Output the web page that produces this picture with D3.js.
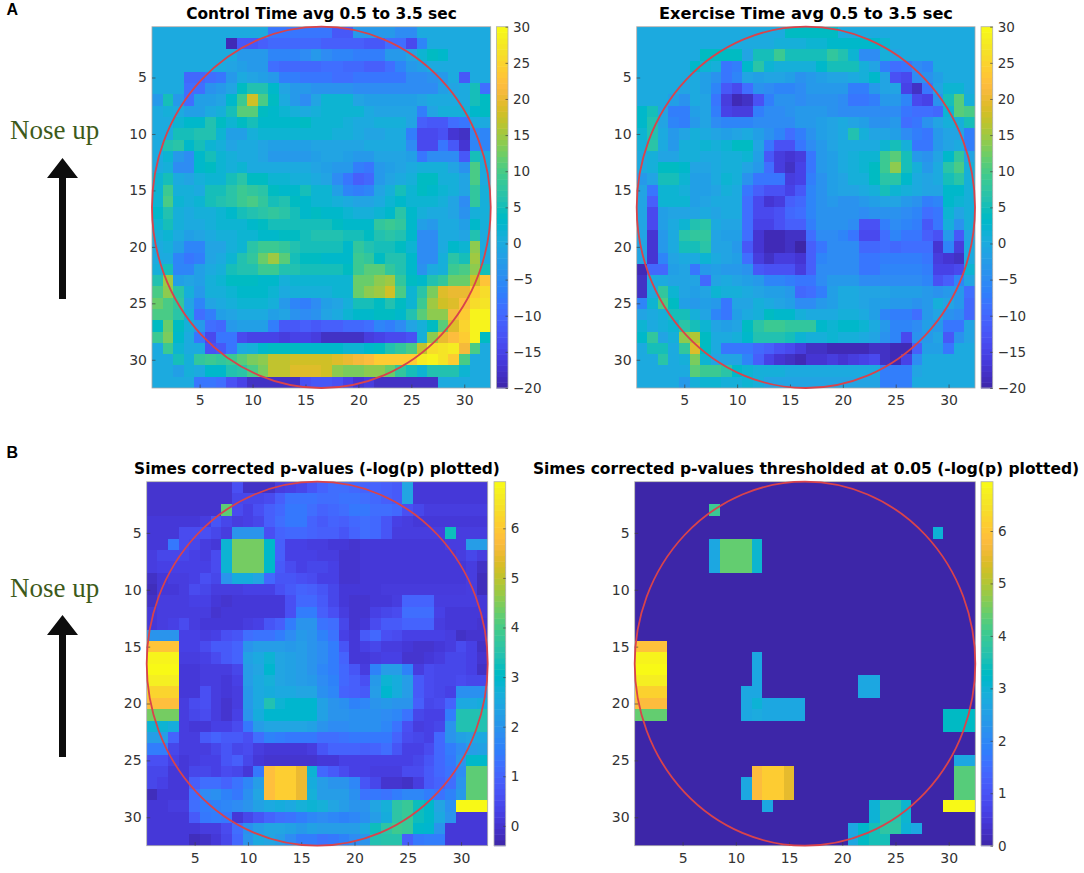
<!DOCTYPE html>
<html>
<head>
<meta charset="utf-8">
<script src="https://d3js.org/d3.v7.min.js"></script>
<style>
  html, body { margin: 0; padding: 0; background: #fff; }
  text { font-family: "DejaVu Sans", sans-serif; }
</style>
</head>
<body>
<svg id="fig" width="1084" height="873">
  <defs><filter id="soft" x="-2%" y="-2%" width="104%" height="104%"><feGaussianBlur stdDeviation="0.7"/></filter></defs>
</svg>
<script>
const controlTime = [
  [0,0,0,0,0,0,0,0,0,0,0,-8,-8,-8,-8,-8,-8,-12,-12,-3,-3,-3,-3,-5,-5,0,0,0,0,0,0,0],
  [0,0,0,0,0,0,0,-19,-12,-12,-11,-10,-10,-10,-10,-10,-11,-11,-11,-11,-12,-12,-9,-9,-14,-6,0,0,0,0,0,0],
  [0,0,0,0,0,0,0,0,-3,-3,-3,-6,-6,-6,-5,-3,-5,-6,-6,-7,-7,-7,-3,-3,-1,2,4,3,0,0,0,0],
  [0,0,0,0,0,0,0,-1,-2,-3,-3,-9,-10,-10,-10,-10,-9,-9,-10,-10,-11,-11,-9,-6,-3,-2,0,0,0,0,0,0],
  [0,0,0,-10,-10,-9,-8,-3,0,-1,-2,-3,-7,-7,-8,-8,-8,-9,-9,-8,-8,-8,-8,-8,-5,-5,-4,-3,0,-12,0,0],
  [0,0,0,-9,-9,-4,-3,-1,4,6,6,3,-1,-3,-3,-4,-4,-4,-4,-5,-5,-5,-5,-5,-5,-5,-5,-2,-1,0,5,-9],
  [-3,5,-3,-9,-2,-2,-1,3,9,18,10,4,0,-3,-5,-1,2,2,2,-1,-2,-2,-2,-2,-2,-1,0,0,0,0,5,4],
  [0,1,0,-2,-2,0,1,5,11,11,4,3,2,1,0,1,2,2,2,2,0,-1,-1,-1,-1,-7,-1,1,1,1,3,4],
  [0,0,2,3,3,6,4,2,4,5,3,3,3,3,4,2,2,2,1,0,0,1,1,1,-1,-11,-12,-12,-9,-8,0,0],
  [0,0,5,5,6,6,2,-2,-2,1,2,2,2,2,2,2,2,1,1,0,-1,-1,0,0,-7,-14,-14,-13,-17,-18,-5,-6],
  [0,6,7,3,5,2,1,-1,0,0,-1,-2,-2,-2,-2,-1,-1,-1,-1,-1,0,0,0,0,-5,-14,-14,-8,-12,-17,-6,-6],
  [0,2,-3,-5,3,5,2,1,0,0,-1,-3,-3,-3,-3,-2,-1,-1,-2,-3,-3,-1,-1,-1,-2,-8,-5,-5,-5,-12,5,0],
  [0,1,-5,-5,3,4,2,1,2,0,0,0,0,0,0,-1,-2,-3,-3,-7,-8,-3,-2,-1,0,1,1,1,-1,-4,10,0],
  [2,5,0,-1,1,2,2,5,7,4,4,2,2,1,1,0,-1,-5,-8,-11,-10,-3,-1,0,1,4,4,1,1,-1,10,0],
  [2,9,1,1,0,5,5,7,9,8,7,4,3,3,5,2,2,-2,-6,-7,-6,-1,1,5,2,4,3,2,1,-1,8,1],
  [2,10,2,1,2,5,6,7,9,10,8,5,6,4,3,2,2,1,0,-1,-1,0,2,3,2,2,2,1,-1,-5,8,1],
  [3,6,1,0,1,1,2,3,5,6,7,8,7,5,3,4,3,3,2,1,1,2,3,7,3,1,0,0,-1,-4,1,1],
  [2,5,1,0,0,1,2,2,2,3,4,5,5,5,5,5,5,4,3,3,3,8,9,8,3,-2,-3,0,0,-2,3,1],
  [1,2,0,-2,-1,0,1,1,2,2,3,3,4,4,5,6,6,6,5,5,4,6,7,6,3,-5,-5,0,0,-1,6,0],
  [0,1,-2,-6,-6,-1,-1,1,2,7,9,9,8,6,5,5,5,5,3,8,6,5,5,4,2,-5,-5,0,3,2,14,0],
  [0,0,-6,-8,-7,-1,0,2,6,8,12,15,11,5,4,4,3,3,3,9,8,4,6,6,3,-5,-5,1,7,5,15,0],
  [1,5,-6,-6,-2,0,1,5,6,6,9,9,6,6,5,5,5,5,4,9,11,11,8,6,3,-4,0,1,9,10,14,5],
  [6,15,-2,-1,-2,1,2,4,4,4,3,3,1,2,2,2,2,2,2,12,12,14,15,8,4,3,6,8,12,12,18,23],
  [10,14,7,1,-3,1,1,2,3,3,3,2,0,1,1,1,1,2,2,12,14,15,18,10,2,7,13,19,20,20,24,26],
  [12,10,8,-1,-6,-1,0,1,2,2,2,1,-3,-6,-7,-5,-2,-1,1,5,5,4,6,4,2,9,15,18,19,22,26,27],
  [10,10,7,1,-9,-7,-2,-1,0,0,0,-2,-1,-4,-5,-4,-1,0,2,3,3,4,4,3,6,11,14,14,21,24,29,29],
  [4,12,4,1,-3,-9,-10,-3,-2,-2,-2,-7,-12,-12,-11,-12,-11,-11,-10,-10,-9,-6,-7,-5,-1,1,4,11,19,25,29,29],
  [9,13,3,0,-8,-14,-8,-8,-14,-15,-15,-15,-16,-15,-15,-16,-18,-18,-18,-18,-16,-15,-14,-14,-13,1,14,20,22,24,29,4],
  [0,9,2,0,0,-13,-12,-8,0,1,3,4,4,4,3,3,3,3,2,2,3,4,6,8,10,17,26,27,28,21,10,0],
  [0,0,5,1,8,9,8,9,11,13,14,17,17,18,18,18,18,19,20,21,22,24,24,24,24,28,29,27,24,10,0,0],
  [0,0,-2,1,0,3,3,6,7,10,13,17,17,19,19,19,18,14,13,13,14,14,12,8,5,2,6,6,6,2,0,0],
  [0,0,0,0,-8,-8,-9,-13,-15,-18,-18,-18,-18,-18,-13,-12,-12,-13,-15,-17,-16,-18,-18,-18,-18,-18,-18,0,0,0,0,0]
];

const exerciseTime = [
  [0,0,0,0,0,0,0,0,0,0,0,0,0,0,4,4,4,4,4,0,0,0,0,0,0,0,0,0,0,0,0,0],
  [0,0,0,0,0,0,0,0,0,0,0,0,0,1,1,1,2,2,3,3,3,3,3,2,0,0,0,0,0,0,0,0],
  [0,0,0,0,0,0,4,4,4,4,-1,5,5,9,5,5,5,5,8,6,2,-5,-5,1,-1,0,0,0,0,0,0,0],
  [0,0,0,0,0,3,2,1,-8,-7,3,7,2,1,1,1,1,3,5,5,5,1,-1,-7,-9,-8,-5,-6,0,0,0,0],
  [0,0,0,0,0,0,-2,-4,-8,-6,-1,-2,-1,-1,-2,-4,-3,-2,-1,-1,0,1,3,-1,-13,-14,-5,-4,-2,0,0,0],
  [0,0,0,0,-1,0,-2,-6,-12,-14,-9,-4,-5,-6,-6,-5,-3,-3,-3,-3,-7,-7,-3,-1,-1,-15,-18,-8,-1,2,2,0],
  [0,0,0,-2,-4,0,-1,-8,-16,-19,-18,-13,-7,-4,-4,-5,-4,-4,-4,-5,-8,-8,-7,-3,-3,-6,-14,-15,-4,5,11,1],
  [3,5,-1,-7,-7,-2,-1,-7,-15,-16,-16,-7,-5,-5,-4,-3,-3,-3,-4,-5,-5,-5,-5,-5,-5,-8,-9,-9,-10,2,11,10],
  [3,6,-1,-6,-7,-3,-1,-5,-6,-6,-6,-5,-5,-5,-5,-3,-3,-2,-1,0,-1,-2,-4,-4,-3,-9,-8,-4,-1,1,1,5],
  [2,6,0,-3,-1,1,0,-1,-2,-1,0,-2,-4,-6,-9,-7,-4,-2,-1,0,6,1,-1,-1,-2,-5,-7,-8,-3,-1,-1,-7],
  [1,7,0,-3,1,1,2,1,2,4,4,-1,-8,-13,-13,-8,-5,-3,-1,0,0,0,0,2,5,1,-8,-8,-3,-1,0,-7],
  [0,1,-1,-1,1,1,0,0,1,1,2,-2,-12,-16,-17,-16,-8,-3,-2,0,1,2,2,9,11,5,-3,-4,-1,3,8,-1],
  [0,1,4,4,3,-1,-1,0,1,1,-1,-3,-9,-16,-18,-15,-8,-3,-2,0,1,2,4,9,14,5,1,-3,0,7,10,1],
  [-3,-1,5,5,2,-2,-2,0,2,1,-4,-8,-8,-8,-16,-15,-7,-4,-2,-1,1,1,4,7,7,3,0,-1,0,5,7,1],
  [-1,-8,2,2,1,-2,-2,-1,1,0,-8,-11,-13,-13,-15,-12,-6,-4,-2,-1,-1,0,1,5,2,1,0,-1,-1,3,3,1],
  [-1,-11,2,2,2,-2,-1,0,0,0,-9,-14,-17,-16,-11,-10,-6,-4,-3,-4,-4,-3,-2,-1,-1,-3,-4,-7,-6,3,2,1],
  [-1,-14,-2,-1,-1,-1,0,-1,0,0,-9,-14,-14,-13,-10,-9,-6,-4,-4,-4,-4,-5,-4,-4,-4,-5,-6,-9,-8,2,-1,1],
  [-1,-14,-2,0,2,6,7,0,-1,-1,-9,-15,-15,-13,-11,-11,-7,-4,-4,-4,-5,-13,-13,-7,-5,-6,-7,-12,-8,1,-4,1],
  [-1,-17,-3,0,7,8,8,-1,-2,-2,-9,-17,-19,-19,-18,-18,-9,-5,-5,-6,-8,-14,-14,-9,-6,-8,-8,-11,-13,-3,-12,-1],
  [-1,-17,-3,0,5,5,7,-1,-1,-3,-12,-17,-19,-19,-18,-20,-11,-8,-5,-5,-5,-10,-10,-9,-10,-9,-9,-9,-17,-6,-16,0],
  [-1,-17,-6,-1,0,0,2,0,-1,-2,-9,-16,-18,-16,-16,-17,-11,-6,-5,-5,-5,-8,-8,-7,-7,-7,-7,-8,-16,-17,-18,0],
  [-19,-10,-10,-2,-1,-8,-3,-2,-3,-3,-4,-12,-13,-13,-13,-16,-11,-5,-5,-5,-5,-8,-8,-6,-6,-6,-6,-7,-15,-15,-14,2],
  [-18,0,0,-1,-1,-1,-10,-1,0,-1,-2,-3,-6,-6,-7,-8,-8,-5,-3,-3,-3,-5,-5,-5,-5,-5,-5,-6,-13,-11,-6,-1],
  [-18,0,8,2,-1,-2,-1,2,1,1,0,-1,-2,-2,-3,-10,-9,-7,-2,0,0,-1,-1,-1,-2,-2,-2,-3,-4,-3,-3,-9],
  [-6,2,10,4,-2,-3,-2,-3,-8,-1,-1,1,0,-1,-2,-5,-5,-3,-2,0,0,-1,-2,-2,-3,-3,-4,-3,1,-1,-3,-10],
  [-1,0,1,5,5,1,-1,-6,-8,-2,0,1,4,3,3,1,0,0,0,1,1,0,-2,-6,-7,-7,-9,-3,-1,-4,-5,-10],
  [2,0,1,2,7,5,2,-1,-2,-1,4,7,9,9,8,8,8,3,2,3,3,2,0,-3,-6,-6,-5,-2,-3,-8,-8,-1],
  [3,8,-1,1,14,16,4,0,0,1,3,6,6,6,5,2,1,1,2,1,1,0,-1,-4,-6,-14,-4,-3,-1,-12,-4,-1],
  [0,5,5,0,8,19,4,0,-8,-8,-8,-10,-11,-13,-14,-16,-18,-18,-19,-19,-19,-19,-18,-18,-19,-19,-11,-2,-2,-8,0,0],
  [0,0,7,0,1,13,2,-1,-1,-1,-6,-11,-15,-17,-18,-19,-17,-17,-16,-17,-16,-15,-14,-18,-19,-15,-5,0,0,0,0,0],
  [0,0,0,0,0,11,9,9,7,3,2,1,1,1,0,0,0,0,0,0,0,0,0,-7,-7,-7,-1,0,0,0,0,0],
  [0,0,0,0,-3,1,2,2,1,1,2,1,-1,-1,-1,-1,-1,-1,-1,-1,-1,-1,-1,-7,-7,-7,0,0,0,0,0,0]
];

const simesP = [
  [0,0,0,0,0,0,0,0,.6,-.1,-.1,-.1,.2,.3,.4,.7,1,1.2,1.2,1.1,1,1,.9,.8,2.4,.1,.1,.1,.1,.1,.1,.1],
  [0,0,0,0,0,0,0,0,.4,.4,.4,.5,.9,1.3,1.3,1.3,1.2,1.2,1.3,1.3,1.2,1.1,.9,.8,2.4,.1,.1,.1,.1,.1,.1,.1],
  [0,0,0,0,0,0,0,4.2,.5,.3,.6,.9,1.1,1.4,1.4,1.2,1,1.1,1.2,1.4,1.4,1.2,1.2,1.1,.6,.4,.2,.2,.2,.2,.2,.2],
  [.1,.1,.1,.1,.1,.2,.7,.4,.2,.3,.4,.9,1.2,1.4,1.4,1,.8,1,.9,1.1,1.2,1.1,.7,.3,.2,.1,.1,.1,.1,.1,.1,.1],
  [.1,.1,.1,.5,.5,.6,.4,.2,2,2,2,.6,1,1.1,1.1,1,.9,.9,.7,1,1.2,1.1,.7,.2,.2,.2,.2,.2,3.2,.2,.2,.2],
  [.1,.1,1.4,.5,.4,.2,.1,2.8,4.4,4.4,4.4,3,.9,.3,.3,.2,.2,.1,.1,0,.1,.1,.1,.1,.1,.1,.1,.1,.2,.2,2.2,2.2],
  [.2,.4,.4,.4,.3,.2,.5,2.8,4.4,4.4,4.4,3,.9,.3,.3,.3,.2,.2,0,0,.1,.1,.1,.1,.1,.1,.1,.1,.1,.2,.4,.2],
  [.2,.3,.3,.3,.3,.3,.5,2.8,4.4,4.4,4.4,3,.8,.5,.3,.4,.4,.3,0,0,.1,.1,.1,.1,.1,.1,.1,.1,.1,.1,.2,-.1],
  [-.1,.1,.2,.2,.3,.6,.4,2,2.6,2.6,2.4,1.1,.7,.7,.6,.5,.3,.3,0,0,.1,.1,.1,.1,.1,.1,.1,.1,.1,.1,.2,-.2],
  [-.2,.1,.1,.2,.5,.4,.2,.2,.2,.3,.3,.3,.6,.8,1,.9,.7,.4,.1,.1,.1,.1,.15,.15,.15,.15,.15,.15,.15,.15,.2,-.2],
  [-.1,.2,.2,.2,.3,.3,.1,0,.1,.1,.1,.1,.1,.6,1.1,1.1,.8,.4,.1,0,0,.1,.1,.2,1,1,1,.2,.2,.2,.2,.1],
  [.1,.2,.2,.2,.2,.2,0,.1,.1,.1,.1,.1,.1,.6,1.5,1.5,.9,.6,.2,0,0,.3,.4,.5,1.2,1.2,1.2,.3,.1,.1,.1,.1],
  [.1,.2,.3,.5,.2,.1,.1,.1,.1,.2,.3,.7,.9,1.5,2,2,1.3,1.2,.4,0,.1,.5,.8,.8,1,1,1,.2,.1,.1,.1,0],
  [2,2,2,.3,.3,.2,.3,.6,.7,1.2,1.3,1.3,1.5,1.8,2.1,2,1.6,1.3,.3,.1,.8,1.1,.6,.5,.3,.3,.3,.3,.2,-.1,0,0],
  [5.9,5.9,5.9,.3,.3,.5,.8,.8,1,2,2.2,2.2,2.2,2.1,2.2,2,1.8,1.5,.7,.1,.3,.4,.2,.2,.1,0,0,.1,.2,.5,.3,-.1],
  [6.8,6.8,6.8,.2,.2,.3,.5,.8,1,2.3,2.5,2.8,2.4,2.3,2.2,2,1.8,1.5,1,.1,.1,.2,.3,.3,0,0,.1,.2,.4,.4,.3,0],
  [6.9,6.9,6.9,.1,.1,.2,.2,.2,.4,2.2,2.4,2.9,2.4,2.3,2.2,2,1.7,1.5,1.1,.7,.2,1.6,2.2,2.2,1.6,.2,.5,.4,.4,.4,.3,-.1],
  [6.7,6.7,6.7,.1,.1,.2,.2,.1,.3,2.2,2.5,2.7,2.4,2.3,2.2,2.1,1.8,1.6,1.1,.9,.6,2.1,2.8,2.6,2.2,.8,.5,.4,.4,.5,.4,.4],
  [6.2,6.2,6.2,.1,.1,.6,.2,.1,.2,2.1,2.5,2.6,2.5,2.5,2.4,2.4,1.9,1.7,1,.9,.8,2.2,2.9,2.6,2.2,.8,.5,.4,.3,1.9,1.9,1.9],
  [5.8,5.8,5.8,.2,.5,.6,.2,0,.2,2.1,2.5,3.4,2.8,2.9,2.9,2.9,2.3,2,1.9,1.6,1.7,2,2.1,2,2,.9,.4,.5,1,2.5,2.5,2.6],
  [4.4,4.4,4.4,.2,.4,.5,.2,0,.3,2,2.6,2.9,2.9,2.9,2.9,2.9,2.3,2,2,1.9,1.9,1.9,1.8,1.7,1.3,.4,.3,.3,1.5,3.4,3.4,3.4],
  [2.8,2.8,2.6,.2,.1,.1,.3,.3,.5,1.4,2.2,2.4,2.4,2.4,2.4,2.3,2,1.8,1.8,1.9,1.9,1.9,1.7,1.3,.6,.2,.3,.4,2,3.4,3.4,3.4],
  [2.2,2.2,1,.2,.2,.8,1,.8,.8,.6,1.2,1.6,1.5,1.4,1.4,1.4,1.2,1.2,1.3,1.4,1.4,1.4,1.4,1,.5,.4,.3,1.1,2,2.3,2.4,2.5],
  [1.5,1.5,.4,.2,.2,.2,.4,.7,.4,.5,.2,.1,.1,.1,.1,.2,.7,1,1,1,.9,1,1.2,.7,.3,.3,.5,1.1,1.5,1.8,2.2,2.3],
  [.6,.6,.3,.1,.2,.3,.3,.7,.9,.4,.1,0,0,0,0,0,.1,.1,.3,.3,.3,.3,.3,.3,.3,.4,.7,1.1,1.4,2,3,3],
  [.4,.4,.1,.1,.4,.4,.3,.5,.4,.1,1.4,5.8,6.1,6.1,5.5,2.8,1.1,.8,.5,.3,.3,.2,.2,.2,.5,.5,.8,1.1,1.3,1.8,4.2,4.2],
  [.4,.3,.1,.1,.9,1.2,1.2,1,1.3,1.7,2.2,5.8,6.1,6.1,5.5,2.6,2.2,2,2,1.7,.7,.4,0,0,-.1,.2,.8,1,1.2,2,4.2,4.2],
  [-.2,.1,.1,.1,1.2,1.8,1.9,1.6,1.4,1.9,2.4,5.8,6.1,6.1,5.5,2.7,2.2,2.2,2.2,1.9,1.3,1.4,1.3,1.5,1.7,1.7,1.5,1.3,1.6,2.1,4.2,4.2],
  [.1,.1,.2,.2,1.2,1.5,1.6,1.7,1.8,2,2.3,2.5,2.6,2.5,2.7,2.8,2.7,2.4,2.2,2,2,2.4,2.7,3.6,3.8,3.2,3,2.4,1.9,6.9,6.9,6.9],
  [.1,.1,.1,.1,.8,1.4,1.5,1.4,.1,.4,.7,1,1.2,1.3,1.5,1.7,1.8,1.7,1.6,1.7,1.9,2.2,2.6,3.6,3.8,3.2,3,2.5,2,.1,.1,.1],
  [.1,.1,.1,.1,.1,.2,.2,.5,1.2,1.9,2.2,2.4,2.4,2.3,2.1,2.3,2.2,2.2,2.2,2.2,2.5,3.2,3.6,3.9,3.8,3,2.9,2,.1,.1,.1,.1],
  [.1,.1,.1,.1,-.2,-.1,.1,.4,1.1,2,2.5,2.4,2.2,1.8,1.5,1.5,1.3,1.4,1.6,1.8,2,3.4,3.5,3.5,.9,1.4,1.5,1.5,.1,.1,.1,.1]
];

const simesThresholded = [
  [0,0,0,0,0,0,0,0,0,0,0,0,0,0,0,0,0,0,0,0,0,0,0,0,0,0,0,0,0,0,0,0],
  [0,0,0,0,0,0,0,0,0,0,0,0,0,0,0,0,0,0,0,0,0,0,0,0,0,0,0,0,0,0,0,0],
  [0,0,0,0,0,0,0,4,0,0,0,0,0,0,0,0,0,0,0,0,0,0,0,0,0,0,0,0,0,0,0,0],
  [0,0,0,0,0,0,0,0,0,0,0,0,0,0,0,0,0,0,0,0,0,0,0,0,0,0,0,0,0,0,0,0],
  [0,0,0,0,0,0,0,0,0,0,0,0,0,0,0,0,0,0,0,0,0,0,0,0,0,0,0,0,3,0,0,0],
  [0,0,0,0,0,0,0,2.7,4.4,4.4,4.4,3.1,0,0,0,0,0,0,0,0,0,0,0,0,0,0,0,0,0,0,0,0],
  [0,0,0,0,0,0,0,2.7,4.4,4.4,4.4,3.1,0,0,0,0,0,0,0,0,0,0,0,0,0,0,0,0,0,0,0,0],
  [0,0,0,0,0,0,0,2.7,4.4,4.4,4.4,3.1,0,0,0,0,0,0,0,0,0,0,0,0,0,0,0,0,0,0,0,0],
  [0,0,0,0,0,0,0,0,0,0,0,0,0,0,0,0,0,0,0,0,0,0,0,0,0,0,0,0,0,0,0,0],
  [0,0,0,0,0,0,0,0,0,0,0,0,0,0,0,0,0,0,0,0,0,0,0,0,0,0,0,0,0,0,0,0],
  [0,0,0,0,0,0,0,0,0,0,0,0,0,0,0,0,0,0,0,0,0,0,0,0,0,0,0,0,0,0,0,0],
  [0,0,0,0,0,0,0,0,0,0,0,0,0,0,0,0,0,0,0,0,0,0,0,0,0,0,0,0,0,0,0,0],
  [0,0,0,0,0,0,0,0,0,0,0,0,0,0,0,0,0,0,0,0,0,0,0,0,0,0,0,0,0,0,0,0],
  [0,0,0,0,0,0,0,0,0,0,0,0,0,0,0,0,0,0,0,0,0,0,0,0,0,0,0,0,0,0,0,0],
  [5.9,5.9,5.9,0,0,0,0,0,0,0,0,0,0,0,0,0,0,0,0,0,0,0,0,0,0,0,0,0,0,0,0,0],
  [6.8,6.8,6.8,0,0,0,0,0,0,0,0,2.7,0,0,0,0,0,0,0,0,0,0,0,0,0,0,0,0,0,0,0,0],
  [6.9,6.9,6.9,0,0,0,0,0,0,0,0,2.7,0,0,0,0,0,0,0,0,0,0,0,0,0,0,0,0,0,0,0,0],
  [6.7,6.7,6.7,0,0,0,0,0,0,0,0,2.7,0,0,0,0,0,0,0,0,0,2.7,2.7,0,0,0,0,0,0,0,0,0],
  [6.2,6.2,6.2,0,0,0,0,0,0,0,2.7,2.7,0,0,0,0,0,0,0,0,0,2.7,2.7,0,0,0,0,0,0,0,0,0],
  [5.8,5.8,5.8,0,0,0,0,0,0,0,2.7,3,2.7,2.7,2.7,2.7,0,0,0,0,0,0,0,0,0,0,0,0,0,0,0,0],
  [4.4,4.4,4.4,0,0,0,0,0,0,0,2.7,2.8,2.7,2.7,2.7,2.7,0,0,0,0,0,0,0,0,0,0,0,0,0,3.3,3.3,3.3],
  [0,0,0,0,0,0,0,0,0,0,0,0,0,0,0,0,0,0,0,0,0,0,0,0,0,0,0,0,0,3.3,3.3,3.3],
  [0,0,0,0,0,0,0,0,0,0,0,0,0,0,0,0,0,0,0,0,0,0,0,0,0,0,0,0,0,0,0,0],
  [0,0,0,0,0,0,0,0,0,0,0,0,0,0,0,0,0,0,0,0,0,0,0,0,0,0,0,0,0,0,0,0],
  [0,0,0,0,0,0,0,0,0,0,0,0,0,0,0,0,0,0,0,0,0,0,0,0,0,0,0,0,0,0,2.7,2.7],
  [0,0,0,0,0,0,0,0,0,0,0,5.8,6.1,6.1,5.5,0,0,0,0,0,0,0,0,0,0,0,0,0,0,0,4.3,4.3],
  [0,0,0,0,0,0,0,0,0,0,2.7,5.8,6.1,6.1,5.5,0,0,0,0,0,0,0,0,0,0,0,0,0,0,0,4.3,4.3],
  [0,0,0,0,0,0,0,0,0,0,2.7,5.8,6.1,6.1,5.5,0,0,0,0,0,0,0,0,0,0,0,0,0,0,0,4.3,4.3],
  [0,0,0,0,0,0,0,0,0,0,0,0,2.7,0,0,0,0,0,0,0,0,0,3,3.7,3.7,3.1,0,0,0,6.9,6.9,6.9],
  [0,0,0,0,0,0,0,0,0,0,0,0,0,0,0,0,0,0,0,0,0,0,3,3.7,3.7,3.1,0,0,0,0,0,0],
  [0,0,0,0,0,0,0,0,0,0,0,0,0,0,0,0,0,0,0,0,2.7,3.2,3.5,3.8,3.8,3,2.7,0,0,0,0,0],
  [0,0,0,0,0,0,0,0,0,0,0,0,0,0,0,0,0,0,0,0,2.7,3.3,3.5,3.5,0,0,0,0,0,0,0,0]
];

const axisTicks = [5, 10, 15, 20, 25, 30];
const tempTicks = [-20, -15, -10, -5, 0, 5, 10, 15, 20, 25, 30];
const pTicks = [0, 1, 2, 3, 4, 5, 6];

// MATLAB parula table
const PARULA = [
  [.2422,.1504,.6603],[.2504,.1650,.7076],[.2578,.1818,.7511],[.2647,.1978,.7952],
  [.2706,.2147,.8364],[.2751,.2342,.8710],[.2783,.2559,.8991],[.2803,.2782,.9221],
  [.2813,.3006,.9414],[.2810,.3228,.9579],[.2795,.3447,.9717],[.2760,.3667,.9829],
  [.2699,.3892,.9906],[.2602,.4123,.9952],[.2440,.4358,.9988],[.2206,.4603,.9973],
  [.1963,.4847,.9892],[.1834,.5074,.9798],[.1786,.5289,.9682],[.1764,.5499,.9520],
  [.1687,.5703,.9359],[.1540,.5902,.9218],[.1460,.6091,.9079],[.1380,.6276,.8973],
  [.1248,.6459,.8883],[.1113,.6635,.8763],[.0952,.6798,.8598],[.0689,.6948,.8394],
  [.0297,.7082,.8163],[.0036,.7203,.7917],[.0067,.7312,.7660],[.0433,.7411,.7394],
  [.0964,.7500,.7120],[.1408,.7584,.6842],[.1717,.7670,.6554],[.1938,.7758,.6251],
  [.2161,.7843,.5923],[.2470,.7918,.5567],[.2906,.7973,.5188],[.3406,.8008,.4789],
  [.3909,.8029,.4354],[.4456,.8024,.3909],[.5044,.7993,.3480],[.5616,.7942,.3045],
  [.6174,.7876,.2612],[.6720,.7793,.2227],[.7242,.7698,.1910],[.7738,.7598,.1646],
  [.8203,.7498,.1535],[.8634,.7406,.1596],[.9035,.7330,.1774],[.9393,.7288,.2100],
  [.9728,.7298,.2394],[.9956,.7434,.2371],[.9970,.7659,.2199],[.9952,.7893,.2028],
  [.9892,.8136,.1885],[.9786,.8386,.1766],[.9676,.8639,.1643],[.9610,.8890,.1537],
  [.9597,.9135,.1423],[.9628,.9373,.1265],[.9691,.9606,.1064],[.9769,.9839,.0805]
];

const svg = d3.select('#fig');

function parulaScale(lo, hi) {
  const stops = PARULA.map((c, i) => lo + (hi - lo) * i / (PARULA.length - 1));
  return d3.scaleLinear().domain(stops)
    .range(PARULA.map(c => d3.rgb(c[0] * 255, c[1] * 255, c[2] * 255))).clamp(true);
}

function drawPanel(p) {
  const g = svg.append('g');
  const x = d3.scaleLinear().domain([0.5, 32.5]).range([p.left, p.right]);
  const y = d3.scaleLinear().domain([0.5, 32.5]).range([p.top, p.bottom]);
  const color = parulaScale(p.lo, p.hi);

  const clipId = 'clip' + p.id;
  g.append('clipPath').attr('id', clipId).append('rect')
    .attr('x', p.left).attr('y', p.top)
    .attr('width', p.right - p.left).attr('height', p.bottom - p.top);

  const cells = p.values.flatMap((row, r) => row.map((v, c) => ({ r: r + 1, c: c + 1, v })));
  g.append('g').attr('clip-path', `url(#${clipId})`)
    .append('g').attr('filter', 'url(#soft)')
    .selectAll('rect').data(cells).join('rect')
    .attr('x', d => x(d.c - 0.5))
    .attr('y', d => y(d.r - 0.5))
    .attr('width', x(2) - x(1) + 0.5)
    .attr('height', y(2) - y(1) + 0.5)
    .attr('shape-rendering', 'crispEdges')
    .attr('fill', d => color(d.v));

  // axes box and inward ticks
  g.append('rect')
    .attr('x', p.left).attr('y', p.top)
    .attr('width', p.right - p.left).attr('height', p.bottom - p.top)
    .attr('fill', 'none').attr('stroke', '#a8a8a8').attr('stroke-width', 0.8);

  const bottomAxis = d3.axisBottom(x).tickValues(axisTicks).tickSize(-3.5).tickPadding(7);
  const leftAxis = d3.axisLeft(y).tickValues(axisTicks).tickSize(-3.5).tickPadding(5);
  const ax = g.append('g').attr('transform', `translate(0,${p.bottom})`).call(bottomAxis);
  const ay = g.append('g').attr('transform', `translate(${p.left},0)`).call(leftAxis);
  [ax, ay].forEach(a => {
    a.select('.domain').remove();
    a.selectAll('line').attr('stroke', '#404040').attr('stroke-width', 0.7);
    a.selectAll('text').attr('fill', '#333').attr('font-size', 14);
  });

  // electrode circle
  g.append('ellipse')
    .attr('cx', x(16.5)).attr('cy', y(16.5))
    .attr('rx', x(32.5) - x(16.5)).attr('ry', y(32.5) - y(16.5))
    .attr('fill', 'none').attr('stroke', '#d9434b').attr('stroke-width', 1.8);

  g.append('text')
    .attr('x', p.titleX).attr('y', p.titleY)
    .attr('text-anchor', 'middle')
    .attr('font-size', p.titleSize)
    .attr('font-weight', 'bold')
    .attr('fill', '#000')
    .text(p.title);

  // colorbar
  const cy = d3.scaleLinear().domain([p.lo, p.hi]).range([p.bottom, p.top]);
  const step = (p.hi - p.lo) / 64;
  const levels = d3.range(64).map(i => p.lo + step * i);
  g.append('g').selectAll('rect').data(levels).join('rect')
    .attr('x', p.barLeft)
    .attr('y', d => cy(d + step))
    .attr('width', p.barRight - p.barLeft)
    .attr('height', cy(p.lo) - cy(p.lo + step) + 0.5)
    .attr('fill', d => color(d + step / 2));
  g.append('rect')
    .attr('x', p.barLeft).attr('y', p.top)
    .attr('width', p.barRight - p.barLeft).attr('height', p.bottom - p.top)
    .attr('fill', 'none').attr('stroke', '#b0b0b0').attr('stroke-width', 0.8);

  const barAxis = d3.axisRight(cy).tickValues(p.barTicks).tickSize(-2.5).tickPadding(5).tickFormat(d3.format('d'));
  const ab = g.append('g').attr('transform', `translate(${p.barRight},0)`).call(barAxis);
  ab.select('.domain').remove();
  ab.selectAll('line').attr('stroke', '#404040').attr('stroke-width', 0.7);
  ab.selectAll('text').attr('fill', '#333').attr('font-size', 13.5);
}

drawPanel({ id: 'a', values: controlTime, title: 'Control Time avg 0.5 to 3.5 sec', titleX: 321.5, titleY: 19, titleSize: 15.4,
  left: 152, right: 490.7, top: 26.7, bottom: 388, barLeft: 496.5, barRight: 508, lo: -20, hi: 30, barTicks: tempTicks });
drawPanel({ id: 'b', values: exerciseTime, title: 'Exercise Time avg 0.5 to 3.5 sec', titleX: 806, titleY: 19, titleSize: 16.2,
  left: 636.7, right: 975, top: 26.7, bottom: 388, barLeft: 981, barRight: 992.7, lo: -20, hi: 30, barTicks: tempTicks });
drawPanel({ id: 'c', values: simesP, title: 'Simes corrected p-values (-log(p) plotted)', titleX: 317, titleY: 474, titleSize: 15.4,
  left: 146.7, right: 487.7, top: 481.7, bottom: 845.7, barLeft: 494, barRight: 505.7, lo: -0.4, hi: 6.94, barTicks: pTicks });
drawPanel({ id: 'd', values: simesThresholded, title: 'Simes corrected p-values thresholded at 0.05 (-log(p) plotted)', titleX: 806, titleY: 474, titleSize: 15.5,
  left: 634.7, right: 975.3, top: 481.7, bottom: 845.7, barLeft: 981, barRight: 993, lo: 0, hi: 6.94, barTicks: pTicks });

// panel letters
svg.append('text').attr('x', 6.5).attr('y', 15).style('font-family', '"Liberation Sans"').attr('font-size', 16).attr('font-weight', 'bold').text('A');
svg.append('text').attr('x', 6.5).attr('y', 458).style('font-family', '"Liberation Sans"').attr('font-size', 16).attr('font-weight', 'bold').text('B');

// nose markers
function noseMarker(textY, tipY, bottomY) {
  svg.append('text').attr('x', 10).attr('y', textY)
    .style('font-family', '"Liberation Serif", serif')
    .attr('font-size', 27).attr('fill', '#3d5a1a').text('Nose up');
  const head = d3.path();
  head.moveTo(62.5, tipY);
  head.lineTo(78, tipY + 20);
  head.lineTo(66, tipY + 20);
  head.lineTo(66, bottomY);
  head.lineTo(59, bottomY);
  head.lineTo(59, tipY + 20);
  head.lineTo(47, tipY + 20);
  head.closePath();
  svg.append('path').attr('d', head.toString()).attr('fill', '#0d0d0d');
}
noseMarker(139, 158, 299);
noseMarker(597, 615, 757);
</script>
</body>
</html>
